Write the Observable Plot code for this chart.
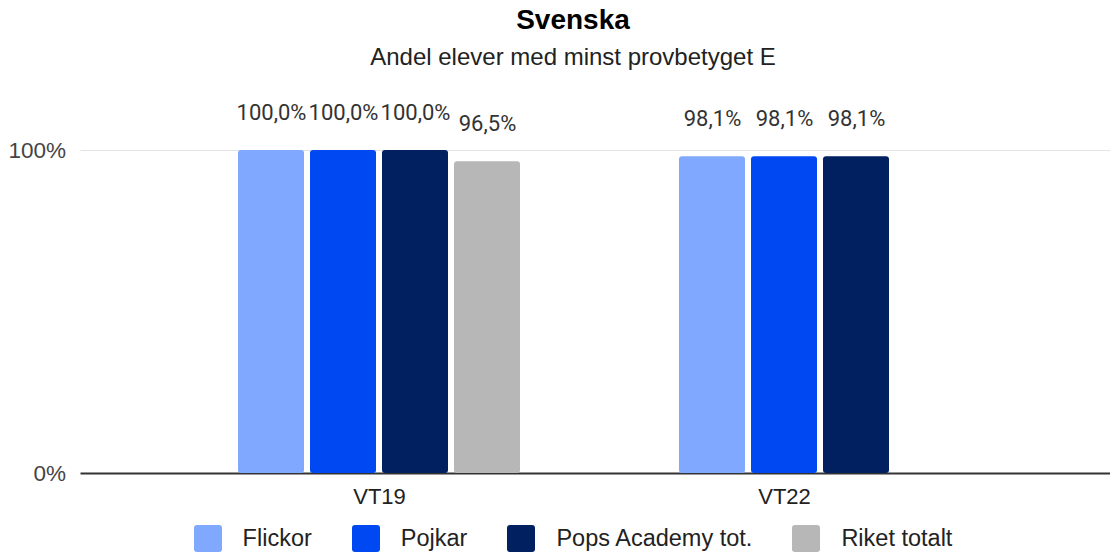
<!DOCTYPE html>
<html>
<head>
<meta charset="utf-8">
<script src="https://cdn.jsdelivr.net/npm/d3@7"></script>
<script src="https://cdn.jsdelivr.net/npm/@observablehq/plot@0.6"></script>
<style>
  html, body { margin: 0; padding: 0; background: #fff; }
  #wrap { position: relative; width: 1110px; height: 554px; overflow: hidden; }
  .hdr { position: absolute; left: 0; width: 1110px; box-sizing: border-box; padding-left: 36px;
         text-align: center; font-family: "Liberation Sans", Arial, sans-serif; white-space: nowrap; }
  #title { top: 6px; font-size: 28px; line-height: 28px; font-weight: bold; color: #000; }
  #subtitle { top: 45px; font-size: 24px; line-height: 24px; color: #222; }
  #chart { position: absolute; left: 0; top: 80px; }
  #legend { position: absolute; left: 0; top: 524px; width: 1110px; box-sizing: border-box; padding-left: 36px;
            display: flex; justify-content: center; align-items: center; height: 28px;
            font-family: "Liberation Sans", Arial, sans-serif; font-size: 23.5px; color: #222; }
  .item { display: flex; align-items: center; margin-right: 40px; }
  .item:last-child { margin-right: 0; }
  .sw { width: 28px; height: 27px; border-radius: 3px; margin-right: 21px; }
</style>
</head>
<body>
<div id="wrap">
  <div id="title" class="hdr"></div>
  <div id="subtitle" class="hdr"></div>
  <div id="chart"></div>
  <div id="legend"></div>
</div>
<script>
// ---- data ----
const titleText = "Svenska";
const subtitleText = "Andel elever med minst provbetyget E";
const periods = ["VT19", "VT22"];
const series = ["Flickor", "Pojkar", "Pops Academy tot.", "Riket totalt"];
const valuesVT19 = [100.0, 100.0, 100.0, 96.5];
const valuesVT22 = [98.1, 98.1, 98.1, null];
const yTicks = [0, 100];

// ---- layout / styling ----
const palette = ["#80a8ff", "#0048f2", "#00205f", "#b7b7b7"];
const W = 1110, H = 435, mLeft = 80, mRight = 0;
const fxRange = [157.5, 1039.5];
const barStep = 72; // px per bar slot within a group (66 bar + 6 gap)
const groupWidth = (fxRange[1] - fxRange[0]) / periods.length;
// stretch the rules (drawn in the first facet only) over the full plot width
const extendLeft = fxRange[0] - mLeft;
const extendRight = (W - mRight) - (fxRange[0] + groupWidth);

const valuesByPeriod = {VT19: valuesVT19, VT22: valuesVT22};
const rows = [];
for (const p of periods) {
  valuesByPeriod[p].forEach((v, i) => {
    if (v != null) rows.push({period: p, series: series[i], value: v});
  });
}
const fmt = v => v.toFixed(1).replace(".", ",") + "%";

document.getElementById("title").textContent = titleText;
document.getElementById("subtitle").textContent = subtitleText;

// group labels centered over the bars present in each group
const labelMarks = periods.map(p => {
  const present = series.filter((s, i) => valuesByPeriod[p][i] != null);
  const n = present.length;
  const anchorSeries = present[Math.floor((n - 1) / 2)];
  return Plot.text([p], {
    fx: d => d,
    x: () => anchorSeries,
    text: d => d,
    frameAnchor: "bottom",
    dy: 30,
    dx: n % 2 === 0 ? barStep / 2 : 0,
    lineAnchor: "bottom",
    fontSize: 22,
    fontFamily: "Liberation Sans, Arial, sans-serif",
    fill: "#222"
  });
});

const firstFacet = () => periods[0];

const chart = Plot.plot({
  width: W,
  height: H,
  marginLeft: mLeft,
  marginRight: mRight,
  marginTop: 70,
  marginBottom: 42,
  style: {background: "#fff", fontFamily: "Liberation Sans, Arial, sans-serif", fontSize: "22.5px", color: "#444"},
  fx: {domain: periods, range: fxRange, padding: 0, axis: null},
  x: {domain: series, paddingInner: 1 / 12, paddingOuter: 1.104, axis: null},
  y: {domain: [0, 100]},
  color: {domain: series, range: palette},
  marks: [
    Plot.ruleY([100], {fx: firstFacet, stroke: "#e3e3e3", strokeWidth: 1, insetLeft: -extendLeft, insetRight: -extendRight}),
    Plot.ruleY([0], {fx: firstFacet, stroke: "#333", strokeWidth: 2, insetLeft: -extendLeft, insetRight: -extendRight}),
    Plot.axisY({ticks: yTicks, tickFormat: d => d + "%", tickSize: 0, tickPadding: 15, dx: -extendLeft, label: null}),
    Plot.barY(rows, {fx: "period", x: "series", y: "value", fill: "series", rx: 3}),
    Plot.text(rows, {
      fx: "period", x: "series", y: "value", text: d => fmt(d.value),
      dy: -31, lineAnchor: "bottom", fontSize: 22, fill: "#333",
      fontFamily: "Roboto, sans-serif"
    }),
    ...labelMarks
  ]
});
document.getElementById("chart").appendChild(chart);

// legend
const legend = document.getElementById("legend");
series.forEach((s, i) => {
  const item = document.createElement("div");
  item.className = "item";
  const sw = document.createElement("div");
  sw.className = "sw";
  sw.style.background = palette[i];
  const t = document.createElement("span");
  t.textContent = s;
  item.appendChild(sw);
  item.appendChild(t);
  legend.appendChild(item);
});
</script>
</body>
</html>
